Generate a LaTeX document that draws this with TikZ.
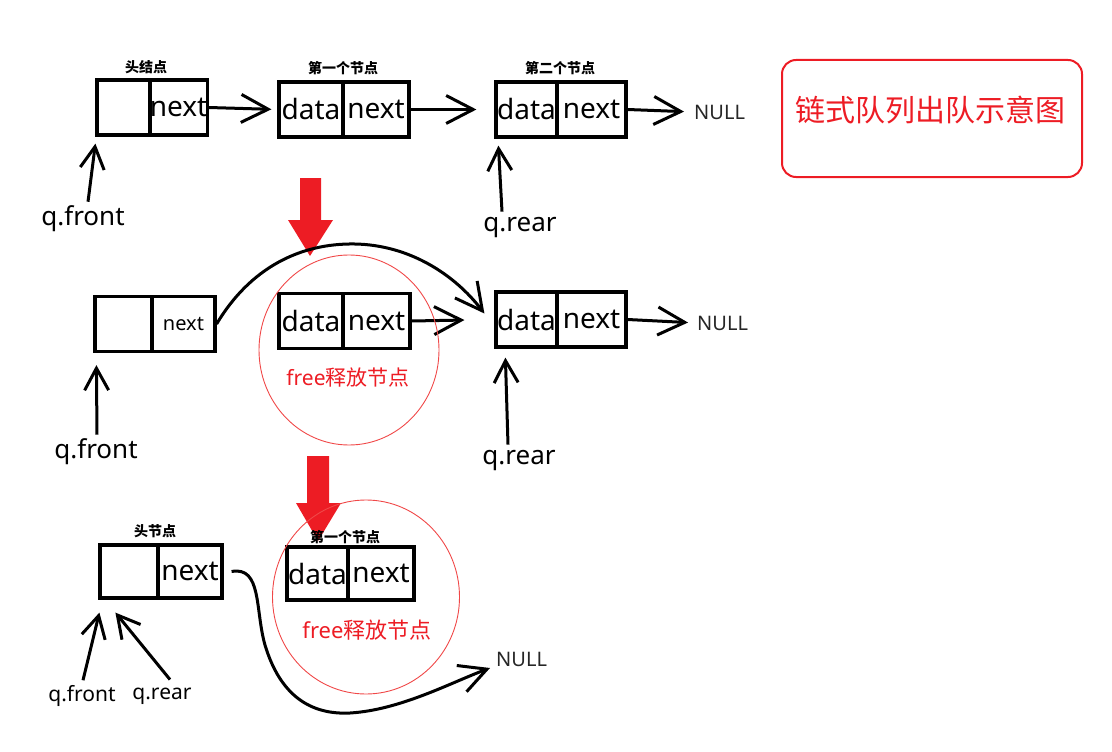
\documentclass[tikz,border=0pt]{standalone}
\usepackage{fontspec}
\setmainfont{Noto Sans}
\newfontfamily\cjk{Noto Sans CJK SC}
\usetikzlibrary{arrows.meta,shapes.geometric}
\definecolor{pred}{HTML}{ED1C24}
\definecolor{lred}{HTML}{F04848}
\tikzset{
  cell/.style={draw, line width=3.2pt, minimum height=55pt, inner sep=0pt, font=\fontsize{28}{30}\selectfont},
  lbl/.style={font=\cjk\bfseries\fontsize{14}{16}\selectfont, inner sep=0pt},
  conn/.style={line width=3pt, -{Straight Barb[length=27pt,width=28pt,line width=3pt]}},
  ptr/.style={line width=3pt, -{Straight Barb[length=22pt,width=24pt,line width=3pt]}},
  nulltxt/.style={font=\fontsize{20}{24}\selectfont, text=black!85, inner sep=0pt, anchor=west},
  qbig/.style={font=\fontsize{26}{30}\selectfont, inner sep=0pt},
  qsmall/.style={font=\fontsize{21}{24}\selectfont, inner sep=0pt},
  freetxt/.style={text=pred, font=\fontsize{21}{24}\selectfont, inner sep=0pt},
  freering/.style={draw=lred, line width=0.9pt, ellipse, inner sep=0pt},
  bigarrow/.style={fill=pred, draw=none},
}
\begin{document}
\begin{tikzpicture}[x=1pt,y=-1pt]
\useasboundingbox (0,0) rectangle (1112,752);

% ---------------- Row 1 ----------------
\node[cell, minimum width=53pt] (h1l) at (123.5,107.5) {};
\node[cell, minimum width=57pt] (h1r) at (178.5,107.5) {next};
\node[lbl] (h1t) at (146,67) {头结点};

\node[cell, minimum width=64pt] (n1l) at (311,109.5) {data};
\node[cell, minimum width=66pt] (n1r) at (376,109.5) {next};
\node[lbl] (n1t) at (343,68) {第一个节点};

\node[cell, minimum width=61pt] (n2l) at (526.5,109.5) {data};
\node[cell, minimum width=69pt] (n2r) at (591.5,109.5) {next};
\node[lbl] (n2t) at (560,68) {第二个节点};

\node[nulltxt] (null1) at (694,112) {NULL};

\draw[conn, shorten >=6pt] (h1r.east) -- (n1l.west);
\draw[conn, shorten >=18pt] (n1r.east) -- (n2l.west);
\draw[conn, shorten >=10pt] (n2r.east) -- (null1.west);

\node[qbig] (qf1) at (83,219) {q.front};
\node[qbig] (qr1) at (520,228) {q.rear};
\draw[ptr] ([shift={(5,-4)}]qf1.north) -- ([shift={(0,7)}]h1l.south west);
\draw[ptr] ([shift={(-18,-6)}]qr1.north) -- ([shift={(4,7)}]n2l.south west);

% title
\node[draw=pred, line width=2pt, rounded corners=14pt, minimum width=300pt, minimum height=117pt] (title) at (932,118.5) {};
\node[text=pred, font=\cjk\fontsize{30}{32}\selectfont, inner sep=0pt] (titletext) at (930,110) {链式队列出队示意图};

% big arrow 1
\fill[bigarrow] (300,178) -- (321,178) -- (321,220) -- (333,220) -- (310,256) -- (288,220) -- (300,220) -- cycle;

% ---------------- Row 2 ----------------
\node[cell, minimum width=57pt] (m0l) at (123.5,324) {};
\node[cell, minimum width=63pt, font=\fontsize{20}{24}\selectfont] (m0r) at (183.5,324) {next};

\node[cell, minimum width=64pt] (m1l) at (311,321) {data};
\node[cell, minimum width=67pt] (m1r) at (376.5,321) {next};

\node[cell, minimum width=61pt] (m2l) at (526.5,319.5) {data};
\node[cell, minimum width=69pt] (m2r) at (591.5,319.5) {next};

\node[nulltxt] (null2) at (697,323) {NULL};

\draw[conn, shorten >=30pt] (m1r.east) -- (m2l.west);
\draw[conn, shorten >=9pt] (m2r.east) -- (null2.west);

\coordinate (m2tip) at ([shift={(-10,-6)}]m2l.west);
\draw[conn] (m0r.east) .. controls (250,268) and (300,243) .. (355,244)
  .. controls (410,245) and (455,275) .. (m2tip);

\node[freering, minimum width=180pt, minimum height=190pt] (ring1) at (349,350) {};
\node[freetxt] (free1) at (348,378) {free{\cjk 释放节点}};

\node[qbig] (qf2) at (96,452) {q.front};
\node[qbig] (qr2) at (519,461) {q.rear};
\draw[ptr] ([shift={(1,-4)}]qf2.north) -- ([shift={(3,12)}]m0l.south west);
\draw[ptr] ([shift={(-11,-6)}]qr2.north) -- ([shift={(11,9)}]m2l.south west);

% big arrow 2
\fill[bigarrow] (307,456) -- (329,456) -- (329,503) -- (341,503) -- (318,541) -- (296,503) -- (307,503) -- cycle;

% ---------------- Row 3 ----------------
\node[cell, minimum width=58pt, minimum height=53pt] (h3l) at (129,571.5) {};
\node[cell, minimum width=64pt, minimum height=53pt] (h3r) at (190,571.5) {next};
\node[lbl] (h3t) at (155,531) {头节点};

\node[cell, minimum width=61pt, minimum height=53pt] (k1l) at (317.5,573.5) {data};
\node[cell, minimum width=66pt, minimum height=53pt] (k1r) at (381,573.5) {next};
\node[lbl] (k1t) at (345,537) {第一个节点};

\node[freering, minimum width=187pt, minimum height=194pt] (ring2) at (366,597) {};
\node[freetxt, font=\fontsize{22}{25}\selectfont] (free2) at (367,630) {free{\cjk 释放节点}};

\node[nulltxt] (null3) at (496,659) {NULL};
\coordinate (k3tip) at ([shift={(-6,9)}]null3.west);
\draw[conn] ([xshift=8pt]h3r.east) .. controls (262,566) and (255,610) .. (265,645)
  .. controls (280,695) and (310,715) .. (350,713)
  .. controls (400,710) and (450,683) .. (k3tip);

\node[qsmall] (qf3) at (82,696) {q.front};
\node[qsmall] (qr3) at (162,696) {q.rear};
\draw[ptr] ([shift={(1,-5)}]qf3.north) -- ([shift={(1,13)}]h3l.south west);
\draw[ptr] ([shift={(8,-8)}]qr3.north) -- ([shift={(17,13)}]h3l.south west);
\end{tikzpicture}
\end{document}
